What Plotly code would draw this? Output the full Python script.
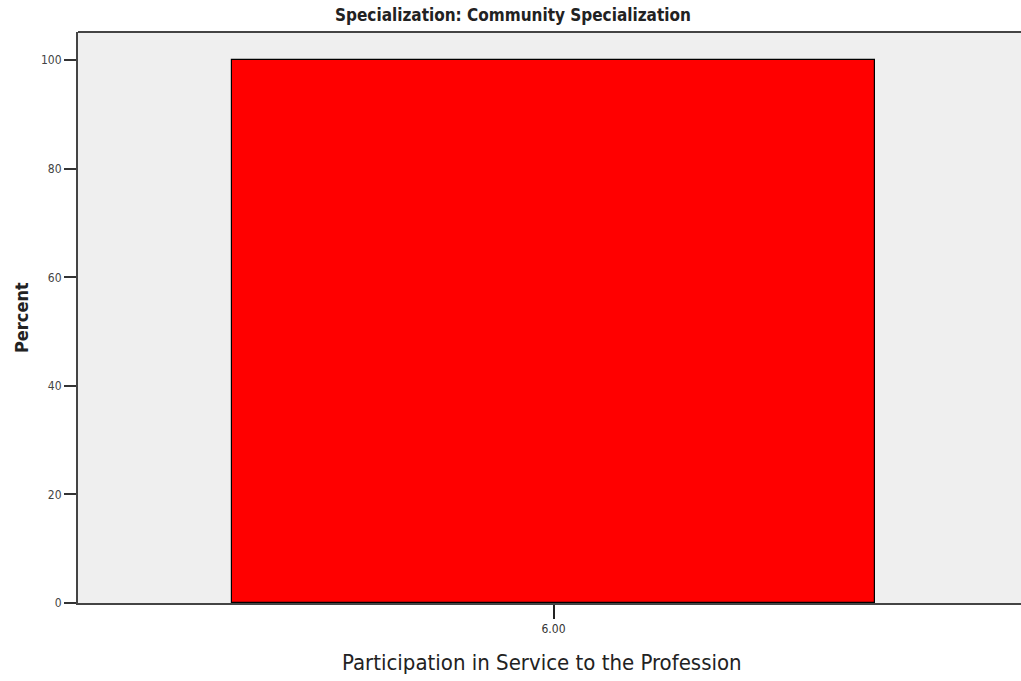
import plotly.graph_objects as go

categories = [6.00]
tick_labels = ["6.00"]
percent = [100]
y_ticks = [0, 20, 40, 60, 80, 100]

FONT = "DejaVu Sans Condensed, Liberation Sans Narrow, sans-serif"

L, R, T, B = 78, 1021, 32, 603
W, H = 1021, 681

fig = go.Figure()
fig.add_trace(go.Bar(
    x=categories, y=percent, width=1.0,
    marker=dict(color="#ff0000", line=dict(color="#000000", width=1.2)),
    showlegend=False,
))

fig.update_layout(
    width=W, height=H,
    margin=dict(l=L, r=W - R, t=T, b=H - B),
    paper_bgcolor="white", plot_bgcolor="#efefef",
    font=dict(family=FONT, color="#333333"),
    bargap=0,
)
fig.add_annotation(text="<b>Specialization: Community Specialization</b>",
                   x=(513 - L) / (R - L), y=1, yref="paper", xref="paper",
                   yanchor="middle", yshift=T - 15, showarrow=False,
                   font=dict(size=17, family=FONT, color="#222222"))
fig.add_annotation(text="Participation in Service to the Profession",
                   x=(542 - L) / (R - L), y=0, yref="paper", xref="paper",
                   yanchor="middle", yshift=-(662 - B), showarrow=False,
                   font=dict(size=22, family=FONT, color="#222222"))
fig.add_annotation(text="<b>Percent</b>", textangle=-90,
                   x=0, y=(B - 318) / (B - T), xref="paper", yref="paper",
                   xanchor="center", xshift=-(L - 21), showarrow=False,
                   font=dict(size=18, family=FONT, color="#222222"))

fig.update_xaxes(
    range=[6 - 475.5 / 643, 6 + 467.5 / 643],
    tickvals=categories, ticktext=tick_labels,
    ticks="outside", ticklen=14, tickwidth=1.5, tickcolor="#222222",
    tickfont=dict(size=12, family=FONT, color="#333333"),
    showline=True, linecolor="#444444", linewidth=2,
    showgrid=False, zeroline=False,
)
fig.update_yaxes(
    range=[0, 105.2],
    tickvals=y_ticks,
    ticks="outside", ticklen=12, tickwidth=1.5, tickcolor="#333333",
    tickfont=dict(size=12, family=FONT, color="#444444"),
    showline=True, linecolor="#444444", linewidth=2,
    showgrid=False, zeroline=False,
)
fig.add_shape(type="line", xref="paper", yref="paper", x0=0, x1=1, y0=1, y1=1,
              line=dict(color="#444444", width=2))

fig.write_html("out.html",
               config={"displayModeBar": False},
               post_script="document.body.style.margin='0';document.body.style.overflow='hidden';")
